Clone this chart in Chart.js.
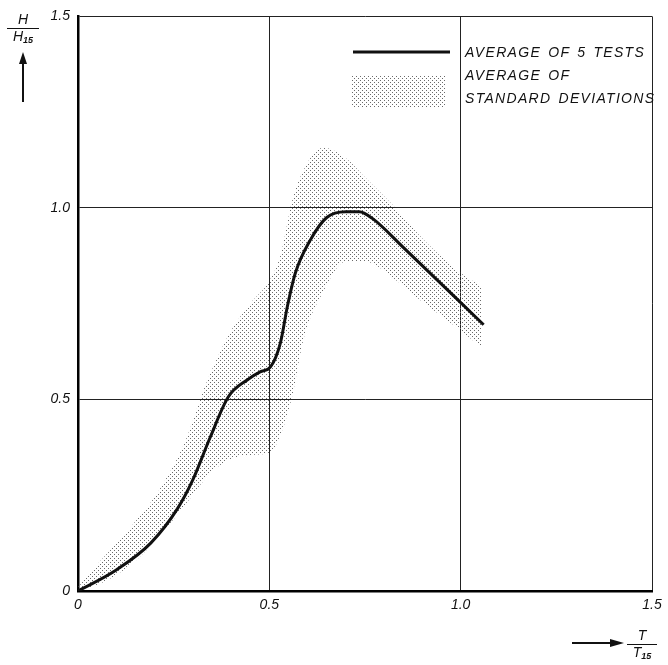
<!DOCTYPE html>
<html>
<head>
<meta charset="utf-8">
<script src="https://cdn.jsdelivr.net/npm/chart.js@4"></script>
<style>
  html, body { margin: 0; padding: 0; background: #fff; }
  #wrap { position: relative; width: 668px; height: 665px; }
  canvas { position: absolute; left: 0; top: 0; }
  .lbl { position: absolute; font-family: "Liberation Sans", sans-serif; font-style: italic; color: #111; }
  .leg { font-size: 14px; letter-spacing: 1.3px; word-spacing: 2px; line-height: 23px; }
  .frac { text-align: center; font-size: 14px; line-height: 15px; }
  .frac .num { border-bottom: 1px solid #111; padding-bottom: 1px; }
  .frac sub { font-size: 9px; vertical-align: -2px; font-weight: bold; }
</style>
</head>
<body>
<div id="wrap">
  <canvas id="chart" width="668" height="665"></canvas>

  <!-- chú thích -->
  <div class="lbl leg" style="left:465px; top:41px;">AVERAGE OF 5 TESTS</div>
  <div class="lbl leg" style="left:465px; top:64px;">AVERAGE OF<br>STANDARD DEVIATIONS</div>

  <!-- tiêu đề trục y -->
  <div class="lbl frac" style="left:7px; top:12px; width:32px;">
    <div class="num">H</div><div>H<sub>15</sub></div>
  </div>
  <svg style="position:absolute; left:16px; top:52px;" width="14" height="52">
    <line x1="7" y1="8" x2="7" y2="50" stroke="#111" stroke-width="2"/>
    <polygon points="7,0 3,12 11,12" fill="#111"/>
  </svg>

  <!-- tiêu đề trục x -->
  <svg style="position:absolute; left:572px; top:636px;" width="52" height="14">
    <line x1="0" y1="7" x2="42" y2="7" stroke="#111" stroke-width="2"/>
    <polygon points="52,7 38,3 38,11" fill="#111"/>
  </svg>
  <div class="lbl frac" style="left:627px; top:628px; width:30px;">
    <div class="num">T</div><div>T<sub>15</sub></div>
  </div>
</div>

<script>
// Đường trung bình của 5 lần thử (T/T15 -> H/H15)
const lineX = [0, 0.10, 0.19, 0.26, 0.30, 0.345, 0.393, 0.442, 0.476, 0.503, 0.529, 0.547, 0.568, 0.607, 0.65, 0.70, 0.735, 0.77, 0.85, 1.06];
const lineY = [0, 0.055, 0.125, 0.215, 0.29, 0.40, 0.507, 0.551, 0.572, 0.585, 0.648, 0.742, 0.83, 0.916, 0.975, 0.99, 0.99, 0.972, 0.897, 0.695];

// Dải độ lệch chuẩn (biên trên / biên dưới)
const bandX     = [0, 0.06, 0.14, 0.21, 0.28, 0.33, 0.36, 0.40, 0.45, 0.50, 0.53, 0.56, 0.59, 0.64, 0.70, 0.75, 0.82, 0.90, 1.00, 1.055];
const bandUpper = [0.01, 0.08, 0.17, 0.26, 0.39, 0.53, 0.60, 0.68, 0.75, 0.81, 0.88, 1.02, 1.10, 1.157, 1.13, 1.08, 1.01, 0.92, 0.83, 0.795];
const bandLower = [0, 0.02, 0.07, 0.14, 0.225, 0.29, 0.32, 0.345, 0.355, 0.36, 0.41, 0.51, 0.66, 0.78, 0.86, 0.86, 0.82, 0.755, 0.68, 0.635];

const tickValues = [0, 0.5, 1.0, 1.5];

function toPoints(xs, ys) {
    return xs.map((x, i) => ({ x: x, y: ys[i] }));
}

// Mẫu chấm lấm tấm cho vùng độ lệch chuẩn
function makeStipple() {
    const c = document.createElement('canvas');
    c.width = 4; c.height = 4;
    const g = c.getContext('2d');
    g.fillStyle = '#6a6a6a';
    g.fillRect(0, 0, 1, 1);
    g.fillRect(2, 2, 1, 1);
    return g.createPattern(c, 'repeat');
}

const stipple = makeStipple();

// Mẫu chú thích vẽ trong vùng biểu đồ
const legendSwatch = {
    id: 'legendSwatch',
    afterDraw(chart) {
        const ctx = chart.ctx;
        ctx.save();
        ctx.strokeStyle = '#111';
        ctx.lineWidth = 3;
        ctx.beginPath();
        ctx.moveTo(353, 52);
        ctx.lineTo(450, 52);
        ctx.stroke();
        ctx.fillStyle = stipple;
        ctx.fillRect(352, 76, 94, 32);
        ctx.restore();
    }
};

const tickFont = { family: '"Liberation Sans", sans-serif', style: 'italic', size: 14 };

new Chart(document.getElementById('chart').getContext('2d'), {
    type: 'scatter',
    data: {
        datasets: [
            {
                label: 'upper',
                data: toPoints(bandX, bandUpper),
                showLine: true,
                borderWidth: 0,
                borderColor: 'rgba(0,0,0,0)',
                backgroundColor: stipple,
                pointRadius: 0,
                cubicInterpolationMode: 'monotone',
                fill: 1,
                order: 2
            },
            {
                label: 'lower',
                data: toPoints(bandX, bandLower),
                showLine: true,
                borderWidth: 0,
                borderColor: 'rgba(0,0,0,0)',
                pointRadius: 0,
                cubicInterpolationMode: 'monotone',
                fill: false,
                order: 2
            },
            {
                label: 'AVERAGE OF 5 TESTS',
                data: toPoints(lineX, lineY),
                showLine: true,
                borderColor: '#111',
                borderWidth: 3,
                pointRadius: 0,
                cubicInterpolationMode: 'monotone',
                fill: false,
                order: 0
            }
        ]
    },
    options: {
        responsive: false,
        animation: false,
        layout: { padding: { top: 16, right: 16, left: 0, bottom: 0 } },
        plugins: {
            legend: { display: false },
            tooltip: { enabled: false }
        },
        scales: {
            x: {
                type: 'linear',
                min: 0,
                max: 1.5,
                afterBuildTicks: s => { s.ticks = tickValues.map(v => ({ value: v })); },
                afterFit: s => { s.height = 74; },
                ticks: {
                    font: tickFont,
                    color: '#111',
                    padding: 6,
                    maxRotation: 0,
                    callback: v => v === 0 ? '0' : v.toFixed(1)
                },
                grid: { color: '#222', lineWidth: 1, drawTicks: false },
                border: { color: '#000', width: 2.5 }
            },
            y: {
                type: 'linear',
                min: 0,
                max: 1.5,
                afterBuildTicks: s => { s.ticks = tickValues.map(v => ({ value: v })); },
                afterFit: s => { s.width = 78; },
                ticks: {
                    font: tickFont,
                    color: '#111',
                    padding: 8,
                    callback: v => v === 0 ? '0' : v.toFixed(1)
                },
                grid: { color: '#222', lineWidth: 1, drawTicks: false },
                border: { color: '#000', width: 2.5 }
            }
        }
    },
    plugins: [legendSwatch]
});
</script>
</body>
</html>
